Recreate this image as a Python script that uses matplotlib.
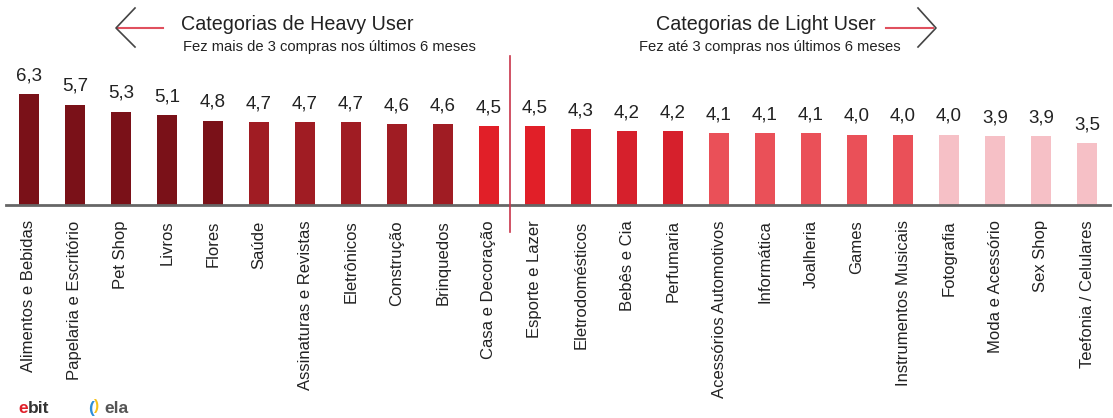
import matplotlib
matplotlib.use('Agg')
import matplotlib.pyplot as plt
from matplotlib.lines import Line2D
import numpy as np

plt.rcParams['font.family'] = ['Liberation Sans', 'DejaVu Sans']

# data
categories = ['Alimentos e Bebidas', 'Papelaria e Escritório', 'Pet Shop', 'Livros', 'Flores',
              'Saúde', 'Assinaturas e Revistas', 'Eletrônicos', 'Construção', 'Brinquedos',
              'Casa e Decoração', 'Esporte e Lazer', 'Eletrodomésticos', 'Bebês e Cia',
              'Perfumaria', 'Acessórios Automotivos', 'Informática', 'Joalheria', 'Games',
              'Instrumentos Musicais', 'Fotografia', 'Moda e Acessório', 'Sex Shop',
              'Teefonia / Celulares']
values = [6.3, 5.7, 5.3, 5.1, 4.8, 4.7, 4.7, 4.7, 4.6, 4.6, 4.5,
          4.5, 4.3, 4.2, 4.2, 4.1, 4.1, 4.1, 4.0, 4.0, 4.0, 3.9, 3.9, 3.5]
colors = (['#7a1118'] * 5 + ['#a01c23'] * 5 + ['#e11f28'] * 2 + ['#d6202c'] * 3
          + ['#ea5058'] * 5 + ['#f6c0c6'] * 4)

W, H = 1113, 418

def fx(px):
    return px / W

def fy(py):
    return 1 - py / H

fig = plt.figure(figsize=(W / 100, H / 100), dpi=100)
ax = fig.add_axes([fx(6), fy(205), 1104 / W, 158 / H])

x = np.arange(len(values))
ax.bar(x, values, width=0.435, color=colors)
for i, v in enumerate(values):
    ax.annotate(f'{v:.1f}'.replace('.', ','), (i, v), xytext=(0, 7), textcoords='offset points',
                ha='center', va='bottom', fontsize=13.5, color='#222222')

ax.set_xlim(-0.5, len(values) - 0.5)
ax.set_ylim(0, 158 / 17.6)
ax.set_xticks(x)
ax.set_xticklabels(categories, rotation=90, fontsize=12, va='top', color='#222222')
ax.tick_params(axis='x', length=0, pad=11)
ax.set_yticks([])
for s in ['top', 'left', 'right']:
    ax.spines[s].set_visible(False)
ax.spines['bottom'].set_color('#666666')
ax.spines['bottom'].set_linewidth(2)

# divider between heavy and light user categories
fig.add_artist(Line2D([fx(510), fx(510)], [fy(56), fy(232)], color='#c8354a', lw=1.2))

# headers
fig.text(fx(181), fy(25), 'Categorias de Heavy User', fontsize=14.2, va='center', color='#222222')
fig.text(fx(183), fy(47), 'Fez mais de 3 compras nos últimos 6 meses', fontsize=10.6,
         va='center', color='#222222')
fig.text(fx(766), fy(25), 'Categorias de Light User', fontsize=14.2, va='center', ha='center',
         color='#222222')
fig.text(fx(770), fy(47), 'Fez até 3 compras nos últimos 6 meses', fontsize=10.6,
         va='center', ha='center', color='#222222')

# arrows
fig.add_artist(Line2D([fx(118), fx(163)], [fy(28), fy(28)], color='#e0505e', lw=1.5))
fig.add_artist(Line2D([fx(135), fx(116), fx(135)], [fy(8), fy(28), fy(47)], color='#444444', lw=1.2))
fig.add_artist(Line2D([fx(886), fx(933)], [fy(28), fy(28)], color='#e0505e', lw=1.5))
fig.add_artist(Line2D([fx(918), fx(936), fx(918)], [fy(8), fy(28), fy(47)], color='#444444', lw=1.2))

# logos at the bottom left
fig.text(fx(18), fy(401), 'e', fontsize=12.5, fontweight='bold', color='#e0202a', va='top')
fig.text(fx(28), fy(401), 'bit', fontsize=12.5, fontweight='bold', color='#333333', va='top')
fig.text(fx(88), fy(401), '(', fontsize=12.5, fontweight='bold', color='#2f8fd8', va='top')
fig.text(fx(94), fy(399), ')', fontsize=11, fontweight='bold', color='#f5c21b', va='top')
fig.text(fx(104), fy(401), 'ela', fontsize=12.5, fontweight='bold', color='#555555', va='top')

fig.savefig('out.png', dpi=100)
